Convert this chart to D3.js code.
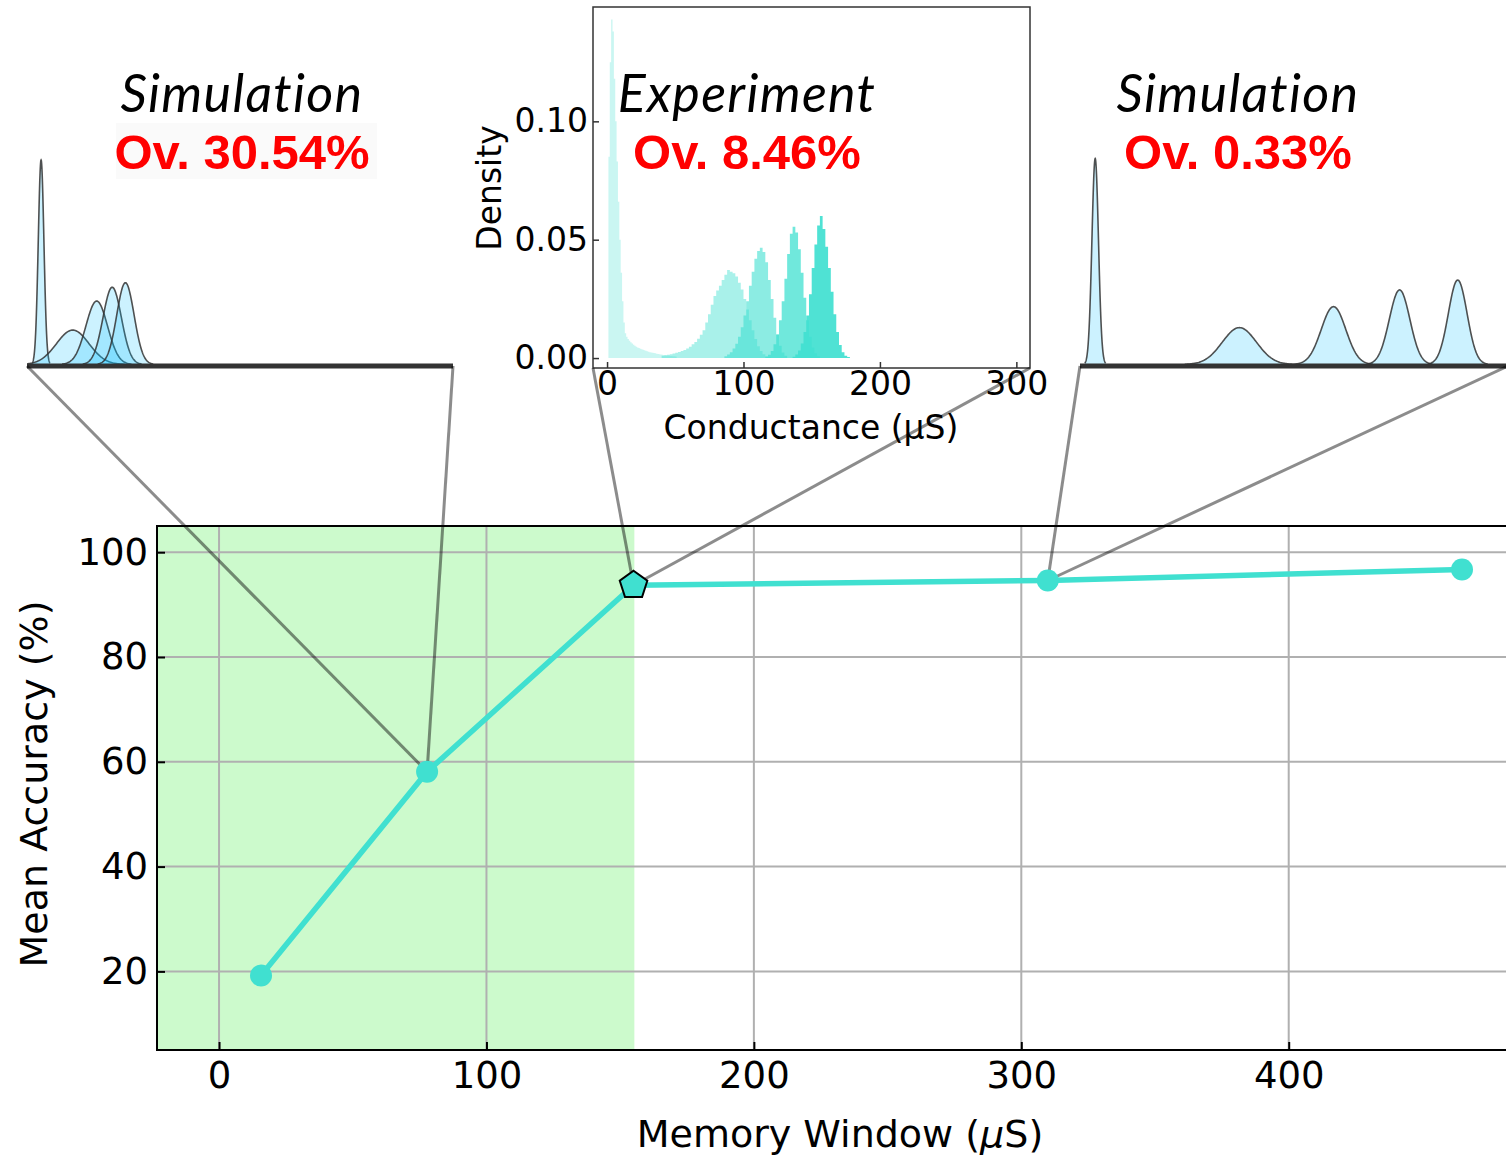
<!DOCTYPE html>
<html><head><meta charset="utf-8">
<script src="https://cdn.jsdelivr.net/npm/d3@7"></script>
<style>body{margin:0;background:#fff;overflow:hidden}</style>
</head><body>
<svg id="chart" width="1506" height="1157"></svg>
<script>
// ---------------- data ----------------
const memoryWindow = [15.7, 77.8, 155.0, 309.9, 464.8];
const meanAccuracy = [19.2, 58.1, 93.7, 94.6, 96.7];
const pointMarker = ["circle", "circle", "pentagon", "circle", "circle"];
const xTicks = [0, 100, 200, 300, 400];
const yTicks = [20, 40, 60, 80, 100];
const shadedRange = [-23.2, 155.3];

const insetTitles = ["Simulation", "Experiment", "Simulation"];
const insetOverlaps = ["Ov. 30.54%", "Ov. 8.46%", "Ov. 0.33%"];

// simulated state distributions (means / widths in µS, peak = relative density)
const simLowMeans  = [0, 29.2, 51.3, 65.6, 77.8];
const simLowSigmas = [2.6, 15, 10, 8.5, 8];
const simLowPeaks  = [0.993, 0.167, 0.308, 0.375, 0.397];
const simHighMeans  = [0, 123.3, 203.8, 260.3, 310];
const simHighSigmas = [2.8, 14.6, 10.5, 8.8, 8];
const simHighPeaks  = [1.0, 0.179, 0.281, 0.362, 0.41];

// experimental histogram (density per bin)
const expTicksX = [0, 100, 200, 300];
const expTicksY = [0, 0.05, 0.10];
const expBinStart = [1, 40, 86, 116, 136];
const expBinWidth = [1, 2, 2, 2, 2];
const expState0 = [0.085,0.125,0.143,0.138,0.118,0.100,0.083,0.066,0.050,0.036,0.024,0.015,0.0105,0.0090,0.0080,
  0.0073,0.0067,0.0061,0.0056,0.0052,0.0048,0.0045,0.0042,0.0039,0.0037,0.0035,0.0033,0.0031,0.0029,0.0027,
  0.0025,0.0024,0.0022,0.0021,0.0020,0.0018,0.0017,0.0016,0.0015,0.0014,0.0013,0.0012,0.0011,0.0010,0.0010,
  0.0009,0.0009,0.0008,0.0008,0.0007];
const expState1 = [0.0010,0.0012,0.0014,0.0016,0.0019,0.0022,0.0026,0.0030,0.0034,0.0040,0.0048,0.0058,0.0068,
  0.0082,0.0098,0.0118,0.0150,0.0185,0.0225,0.0262,0.0285,0.0305,0.0330,0.0352,0.0372,0.0365,0.0358,0.0345,
  0.0318,0.0290,0.0250,0.0205,0.0160,0.0118,0.0080,0.0050,0.0030,0.0016,0.0008,0.0004];
const expState2 = [0.0008,0.0015,0.0025,0.0040,0.0060,0.0090,0.0130,0.0180,0.0240,0.0305,0.0365,0.0420,0.0452,
  0.0466,0.0448,0.0405,0.0330,0.0250,0.0170,0.0100,0.0052,0.0024,0.0010];
const expState3 = [0.0006,0.0014,0.0030,0.0058,0.0100,0.0160,0.0240,0.0335,0.0440,0.0525,0.0555,0.0530,0.0460,
  0.0360,0.0255,0.0160,0.0090,0.0045,0.0020,0.0008];
const expState4 = [0.0006,0.0015,0.0032,0.0062,0.0110,0.0180,0.0270,0.0380,0.0480,0.0560,0.0600,0.0545,0.0470,
  0.0380,0.0280,0.0185,0.0110,0.0055,0.0025,0.0010,0.0004];
const expStates = [expState0, expState1, expState2, expState3, expState4];
const expAlpha = [0.28, 0.45, 0.6, 0.75, 0.92];

// ---------------- drawing ----------------
const svg = d3.select("#chart");
const AXFONT = "'DejaVu Sans', Verdana, sans-serif";
const TURQ = "#40e0d0";

// main axes scales
const x = d3.scaleLinear().domain([-23.2, 482]).range([157, 1508]);
const y = d3.scaleLinear().domain([5, 105]).range([1050, 526]);

const main = svg.append("g");
main.append("rect").attr("x", x(shadedRange[0])).attr("y", y(105))
  .attr("width", x(shadedRange[1]) - x(shadedRange[0])).attr("height", y(5) - y(105))
  .attr("fill", "#ccfacc");

// grid
main.append("g").selectAll("line").data(xTicks).join("line")
  .attr("x1", d => x(d)).attr("x2", d => x(d)).attr("y1", y(105)).attr("y2", y(5))
  .attr("stroke", "#b0b0b0").attr("stroke-width", 2);
main.append("g").selectAll("line").data(yTicks).join("line")
  .attr("x1", x(-23.2)).attr("x2", x(482)).attr("y1", d => y(d)).attr("y2", d => y(d))
  .attr("stroke", "#b0b0b0").attr("stroke-width", 2);

// axes
const gx = main.append("g").attr("transform", `translate(0,${y(5)})`)
  .call(d3.axisBottom(x).tickValues(xTicks).tickSizeInner(-8).tickSizeOuter(0).tickPadding(12));
const gy = main.append("g").attr("transform", `translate(${x(-23.2)},0)`)
  .call(d3.axisLeft(y).tickValues(yTicks).tickSizeInner(-8).tickSizeOuter(0).tickPadding(9));
[gx, gy].forEach(g => {
  g.select(".domain").remove();
  g.selectAll(".tick line").attr("stroke", "#000").attr("stroke-width", 2);
  g.selectAll(".tick text").attr("font-family", AXFONT).attr("font-size", 37).attr("fill", "#000");
});

// frame
main.append("path")
  .attr("d", `M${x(482)},${y(105)}H${x(-23.2)}V${y(5)}H${x(482)}`)
  .attr("fill", "none").attr("stroke", "#000").attr("stroke-width", 2);

// axis labels
const xl = main.append("text").attr("x", 840).attr("y", 1147).attr("text-anchor", "middle")
  .attr("font-family", AXFONT).attr("font-size", 38);
xl.append("tspan").text("Memory Window (");
xl.append("tspan").attr("font-style", "italic").text("μ");
xl.append("tspan").text("S)");
main.append("text").attr("transform", "translate(47,784) rotate(-90)").attr("text-anchor", "middle")
  .attr("font-family", AXFONT).attr("font-size", 38).text("Mean Accuracy (%)");

// ---------------- insets ----------------
const insets = svg.append("g");

// simulation inset helper
function simInset(means, sigmas, peaks, domain, range) {
  const sx = d3.scaleLinear().domain(domain).range(range);
  const sy = d3.scaleLinear().domain([0, 1]).range([364.5, 158.5]);
  const g = insets.append("g");
  means.forEach((m, i) => {
    const s = sigmas[i];
    const pts = d3.range(-3.2, 3.2001, 0.05).map(k => [m + k * s, peaks[i] * Math.exp(-0.5 * k * k)])
      .filter(d => d[0] >= domain[0] && d[0] <= domain[1]);
    g.append("path").attr("d", d3.area().x(d => sx(d[0])).y0(sy(0)).y1(d => sy(d[1]))(pts))
      .attr("fill", "#00bfff").attr("fill-opacity", 0.2);
    g.append("path").attr("d", d3.line().x(d => sx(d[0])).y(d => sy(d[1]))(pts))
      .attr("fill", "none").attr("stroke", "#333").attr("stroke-opacity", 0.85).attr("stroke-width", 1.6);
  });
  g.append("line").attr("x1", range[0]).attr("x2", range[1]).attr("y1", 366).attr("y2", 366)
    .attr("stroke", "#333").attr("stroke-width", 5);
  return sx;
}
const sxLow = simInset(simLowMeans, simLowSigmas, simLowPeaks, [-13, 380], [27, 453]);
const sxHigh = simInset(simHighMeans, simHighSigmas, simHighPeaks, [-13, 353], [1080, 1508]);

// experiment inset
const ex = d3.scaleLinear().domain([-10.3, 310]).range([593, 1030]);
const ey = d3.scaleLinear().domain([-0.0042, 0.1483]).range([368, 7]);
const eg = insets.append("g");
eg.append("rect").attr("x", 593).attr("y", 7).attr("width", 437).attr("height", 361).attr("fill", "#fff");
expStates.forEach((vals, si) => {
  const st = expBinStart[si], w = expBinWidth[si];
  const pts = vals.map((v, i) => [st + i * w, v]);
  pts.push([st + vals.length * w, 0]);
  eg.append("path")
    .attr("d", d3.area().curve(d3.curveStepAfter).x(d => ex(d[0])).y0(ey(0)).y1(d => ey(d[1]))(pts))
    .attr("fill", TURQ).attr("fill-opacity", expAlpha[si]);
});
const egx = eg.append("g").attr("transform", "translate(0,368)")
  .call(d3.axisBottom(ex).tickValues(expTicksX).tickSizeInner(-6).tickSizeOuter(0).tickPadding(4));
const egy = eg.append("g").attr("transform", "translate(593,0)")
  .call(d3.axisLeft(ey).tickValues(expTicksY).tickFormat(d3.format(".2f")).tickSizeInner(-6).tickSizeOuter(0).tickPadding(5));
[egx, egy].forEach(g => {
  g.select(".domain").remove();
  g.selectAll(".tick line").attr("stroke", "#333").attr("stroke-width", 1.5);
  g.selectAll(".tick text").attr("font-family", AXFONT).attr("font-size", 33).attr("fill", "#000");
});
eg.append("rect").attr("x", 593).attr("y", 7).attr("width", 437).attr("height", 361)
  .attr("fill", "none").attr("stroke", "#333").attr("stroke-width", 1.5);
eg.append("text").attr("x", 811).attr("y", 439).attr("text-anchor", "middle")
  .attr("font-family", AXFONT).attr("font-size", 33).text("Conductance (μS)");
eg.append("text").attr("transform", "translate(501,188) rotate(-90)").attr("text-anchor", "middle")
  .attr("font-family", AXFONT).attr("font-size", 33).text("Density");

// inset titles
const titleX = [242, 747, 1238];
insets.append("rect").attr("x", 116).attr("y", 123).attr("width", 261).attr("height", 56).attr("fill", "#fafafa");
insetTitles.forEach((t, i) => {
  insets.append("text").attr("x", titleX[i]).attr("y", 112).attr("text-anchor", "middle")
    .attr("font-family", "Lato, 'Open Sans', sans-serif").attr("font-style", "italic")
    .attr("font-size", 52).attr("letter-spacing", 1.3).attr("fill", "#000").text(t);
  insets.append("text").attr("x", titleX[i]).attr("y", 169).attr("text-anchor", "middle")
    .attr("font-family", "'Liberation Sans', Arial, sans-serif").attr("font-weight", "bold")
    .attr("font-size", 49).attr("fill", "#ff0000").text(insetOverlaps[i]);
});

// connectors
const links = [
  [[sxLow.range()[0], 366], 1], [[sxLow.range()[1], 366], 1],
  [[593, 368], 2], [[1030, 368], 2],
  [[sxHigh.range()[0], 366], 3], [[sxHigh.range()[1], 366], 3]
];
const cg = svg.append("g");
links.forEach(([p, k]) => {
  cg.append("line").attr("x1", p[0]).attr("y1", p[1])
    .attr("x2", x(memoryWindow[k])).attr("y2", y(meanAccuracy[k]))
    .attr("stroke", "#000").attr("stroke-opacity", 0.45).attr("stroke-width", 3);
});

// main series
const pts = memoryWindow.map((m, i) => [m, meanAccuracy[i], pointMarker[i]]);
svg.append("path").attr("d", d3.line().x(d => x(d[0])).y(d => y(d[1]))(pts))
  .attr("fill", "none").attr("stroke", TURQ).attr("stroke-width", 5.5);
pts.forEach(d => {
  if (d[2] === "circle") {
    svg.append("circle").attr("cx", x(d[0])).attr("cy", y(d[1])).attr("r", 11).attr("fill", TURQ);
  } else {
    const r = 14.5;
    const poly = d3.range(5).map(k => {
      const a = -Math.PI / 2 + k * 2 * Math.PI / 5;
      return [x(d[0]) + r * Math.cos(a), y(d[1]) + r * Math.sin(a)];
    });
    svg.append("polygon").attr("points", poly.map(p => p.join(",")).join(" "))
      .attr("fill", TURQ).attr("stroke", "#000").attr("stroke-width", 2).attr("stroke-linejoin", "miter");
  }
});
</script>
</body></html>
